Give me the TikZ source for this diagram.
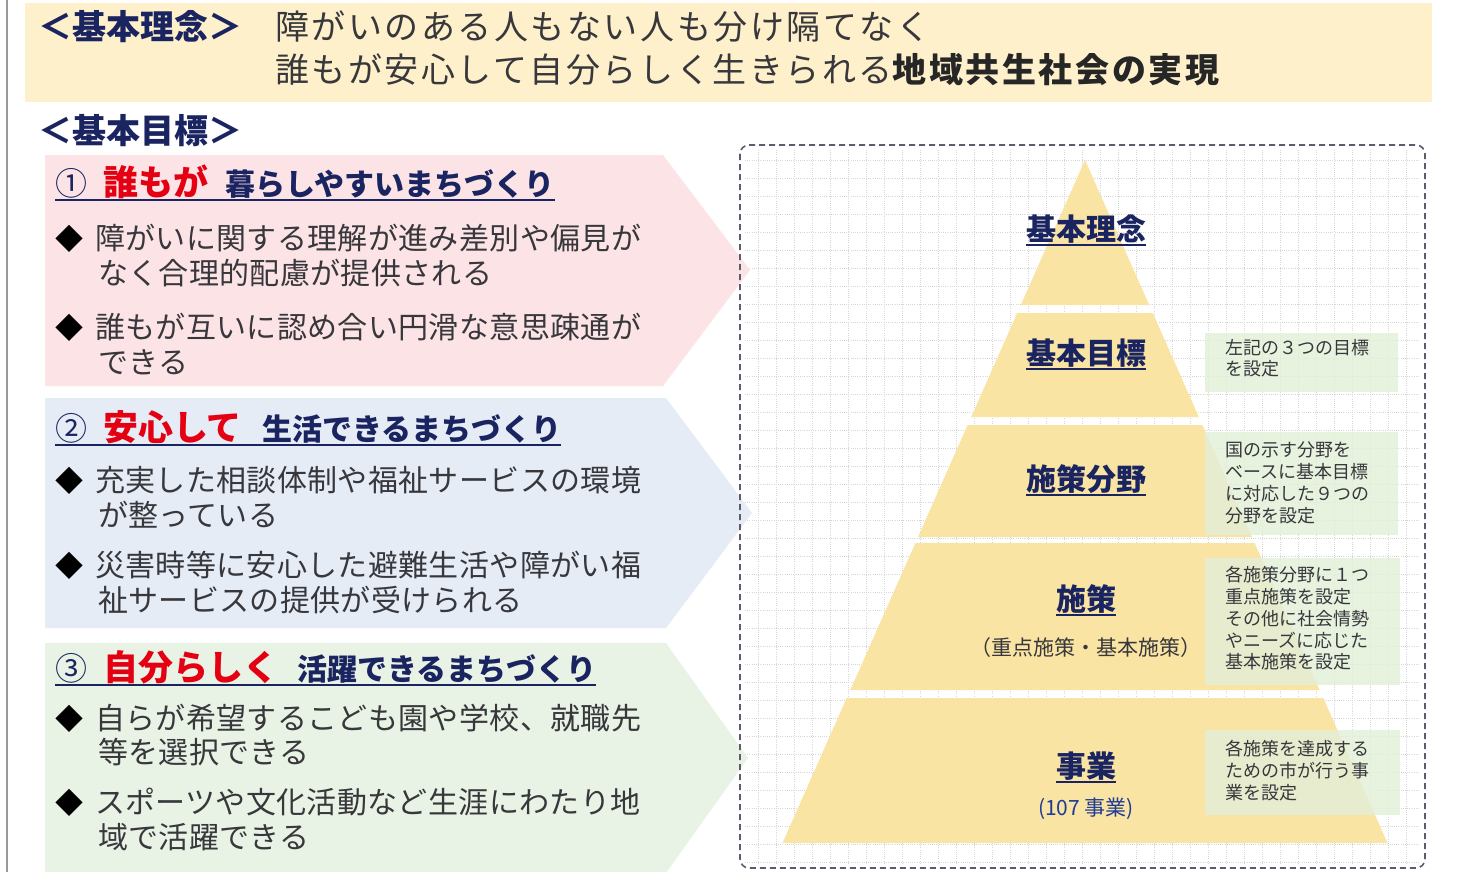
\documentclass[tikz,border=0pt]{standalone}
\usepackage{fontspec}
\setmainfont{Noto Sans CJK JP}
\newfontfamily\jpls[LetterSpace=7.5]{Noto Sans CJK JP}
\newfontfamily\jpbody[LetterSpace=1.2]{Noto Sans CJK JP}
\definecolor{navy}{RGB}{26,36,96}
\definecolor{jred}{RGB}{228,0,18}
\definecolor{txtgray}{RGB}{55,55,60}
\definecolor{banner}{RGB}{253,240,202}
\definecolor{pinkbg}{RGB}{252,228,230}
\definecolor{bluebg}{RGB}{229,236,246}
\definecolor{greenbg}{RGB}{233,243,229}
\definecolor{pyr}{RGB}{250,228,163}
\definecolor{sidebox}{RGB}{226,239,216}
\definecolor{gridc}{RGB}{214,214,214}
\definecolor{bordc}{RGB}{95,90,110}
\definecolor{numblue}{RGB}{30,60,150}
\tikzset{
  tx/.style={inner sep=0pt, outer sep=0pt, anchor=base west},
  ctx/.style={inner sep=0pt, outer sep=0pt, anchor=base},
  title/.style={tx, text=navy, font=\bfseries\fontsize{34}{40}\selectfont},
  banner text/.style={tx, text=txtgray, font=\jpls\fontsize{34}{40}\selectfont},
  numc/.style={tx, text=navy, font=\fontsize{32}{38}\selectfont},
  redh/.style={tx, text=jred, font=\bfseries\fontsize{35}{40}\selectfont},
  navh/.style={tx, text=navy, font=\bfseries\fontsize{30}{36}\selectfont},
  bul/.style={tx, text=black, font=\fontsize{28}{34}\selectfont},
  body/.style={tx, text=txtgray, font=\jpbody\fontsize{30}{36}\selectfont},
  pyrlab/.style={ctx, text=navy, font=\bfseries\fontsize{30}{36}\selectfont},
  sub/.style={ctx, text=txtgray, font=\fontsize{21}{26}\selectfont},
  side/.style={tx, text=txtgray, font=\fontsize{18}{22}\selectfont},
  uline/.style={navy, line width=1.6pt},
  gridline/.style={gridc, line width=0.6pt, dash pattern=on 1pt off 1.2pt},
}
\begin{document}
\begin{tikzpicture}[x=1pt,y=-1pt]
\useasboundingbox (0,0) rectangle (1458,872);
\fill[white] (0,0) rectangle (1458,872);
% left border line
\draw[gray!80, line width=2pt] (7,0) -- (7,872);
% banner
\fill[banner] (25,3) rectangle (1432,102);
\node[title] (t1) at (38,40) {＜基本理念＞};
\node[banner text] (b1) at (275,40) {障がいのある人もない人も分け隔てなく};
\node[banner text] (b2) at (275,83) {誰もが安心して自分らしく生きられる};
\node[banner text, font=\jpls\bfseries\fontsize{34}{40}\selectfont, text=black!85] (b3) at (b2.base east) {地域共生社会の実現};
\node[title] (t2) at (38,143) {＜基本目標＞};

% right panel grid
\foreach \gx in {758,776,...,1416} \draw[gridline] (\gx,150) -- (\gx,864);
\foreach \gy in {160,178,...,862} \draw[gridline] (745,\gy) -- (1420,\gy);

% chevrons
\fill[pinkbg] (45,155) -- (663,155) -- (750,270) -- (663,386) -- (45,386) -- cycle;
\fill[bluebg] (45,398) -- (666,398) -- (752,513) -- (666,628) -- (45,628) -- cycle;
\fill[greenbg] (45,643) -- (666,643) -- (748,758) -- (666,873) -- (45,873) -- cycle;

% dashed panel border
\draw[bordc, line width=1.6pt, dash pattern=on 6pt off 4pt, rounded corners=9pt] (740,145) rectangle (1425,868);

% section 1
\node[numc] (n1) at (55,195) {①};
\node[redh] (r1) at (103,195) {誰もが};
\node[navh] (h1) at (225,195) {暮らしやすいまちづくり};
\draw[uline] (55,200) -- (h1.base east |- 0,200);
\node[bul] (d11) at (55,249) {◆};
\node[body] (l11) at (95,249) {障がいに関する理解が進み差別や偏見が};
\node[body] (l12) at (98,284) {なく合理的配慮が提供される};
\node[bul] (d12) at (55,338) {◆};
\node[body] (l13) at (95,338) {誰もが互いに認め合い円滑な意思疎通が};
\node[body] (l14) at (98,373) {できる};

% section 2
\node[numc] (n2) at (55,440) {②};
\node[redh] (r2) at (103,440) {安心して};
\node[navh] (h2) at (262,440) {生活できるまちづくり};
\draw[uline] (55,445) -- (h2.base east |- 0,445);
\node[bul] (d21) at (55,491) {◆};
\node[body] (l21) at (95,491) {充実した相談体制や福祉サービスの環境};
\node[body] (l22) at (98,526) {が整っている};
\node[bul] (d22) at (55,576) {◆};
\node[body] (l23) at (95,576) {災害時等に安心した避難生活や障がい福};
\node[body] (l24) at (98,611) {祉サービスの提供が受けられる};

% section 3
\node[numc] (n3) at (55,680) {③};
\node[redh] (r3) at (103,680) {自分らしく};
\node[navh] (h3) at (297,680) {活躍できるまちづくり};
\draw[uline] (55,685) -- (h3.base east |- 0,685);
\node[bul] (d31) at (55,729) {◆};
\node[body] (l31) at (95,729) {自らが希望するこども園や学校、就職先};
\node[body] (l32) at (98,763) {等を選択できる};
\node[bul] (d32) at (55,813) {◆};
\node[body] (l33) at (95,813) {スポーツや文化活動など生涯にわたり地};
\node[body] (l34) at (98,848) {域で活躍できる};

% pyramid
\fill[pyr] (1085,160) -- (1149.2,305) -- (1020.8,305) -- cycle;
\fill[pyr] (1017.2,313) -- (1152.8,313) -- (1198.8,417) -- (971.2,417) -- cycle;
\fill[pyr] (967.6,425) -- (1202.4,425) -- (1252,537) -- (918,537) -- cycle;
\fill[pyr] (915.4,543) -- (1254.6,543) -- (1319.7,690) -- (850.3,690) -- cycle;
\fill[pyr] (846.7,698) -- (1323.3,698) -- (1387.5,843) -- (782.5,843) -- cycle;

% side boxes
\fill[sidebox, fill opacity=0.8] (1205,333) rectangle (1398,392);
\fill[sidebox, fill opacity=0.8] (1205,432) rectangle (1398,535);
\fill[sidebox, fill opacity=0.8] (1205,558) rectangle (1400,685);
\fill[sidebox, fill opacity=0.8] (1205,730) rectangle (1400,815);

% pyramid labels
\node[pyrlab] (p1) at (1086,240) {基本理念};
\node[pyrlab] (p2) at (1086,364) {基本目標};
\node[pyrlab] (p3) at (1086,490) {施策分野};
\node[pyrlab] (p4) at (1086,610) {施策};
\node[sub] (p4s) at (1086,655) {（重点施策・基本施策）};
\node[pyrlab] (p5) at (1086,777) {事業};
\node[sub, text=numblue] (p5s) at (1086,815) {(107 事業)};
\foreach \n in {p1,p2,p3,p4,p5}
  \draw[uline] ([yshift=-5pt]\n.base west) -- ([yshift=-5pt]\n.base east);

% side texts
\node[side] (s11) at (1225,354) {左記の３つの目標};
\node[side] (s12) at (1225,375) {を設定};
\node[side] (s21) at (1225,456) {国の示す分野を};
\node[side] (s22) at (1225,478) {ベースに基本目標};
\node[side] (s23) at (1225,500) {に対応した９つの};
\node[side] (s24) at (1225,522) {分野を設定};
\node[side] (s31) at (1225,581) {各施策分野に１つ};
\node[side] (s32) at (1225,603) {重点施策を設定};
\node[side] (s33) at (1225,625) {その他に社会情勢};
\node[side] (s34) at (1225,647) {やニーズに応じた};
\node[side] (s35) at (1225,668) {基本施策を設定};
\node[side] (s41) at (1225,755) {各施策を達成する};
\node[side] (s42) at (1225,777) {ための市が行う事};
\node[side] (s43) at (1225,799) {業を設定};
\end{tikzpicture}
\end{document}
